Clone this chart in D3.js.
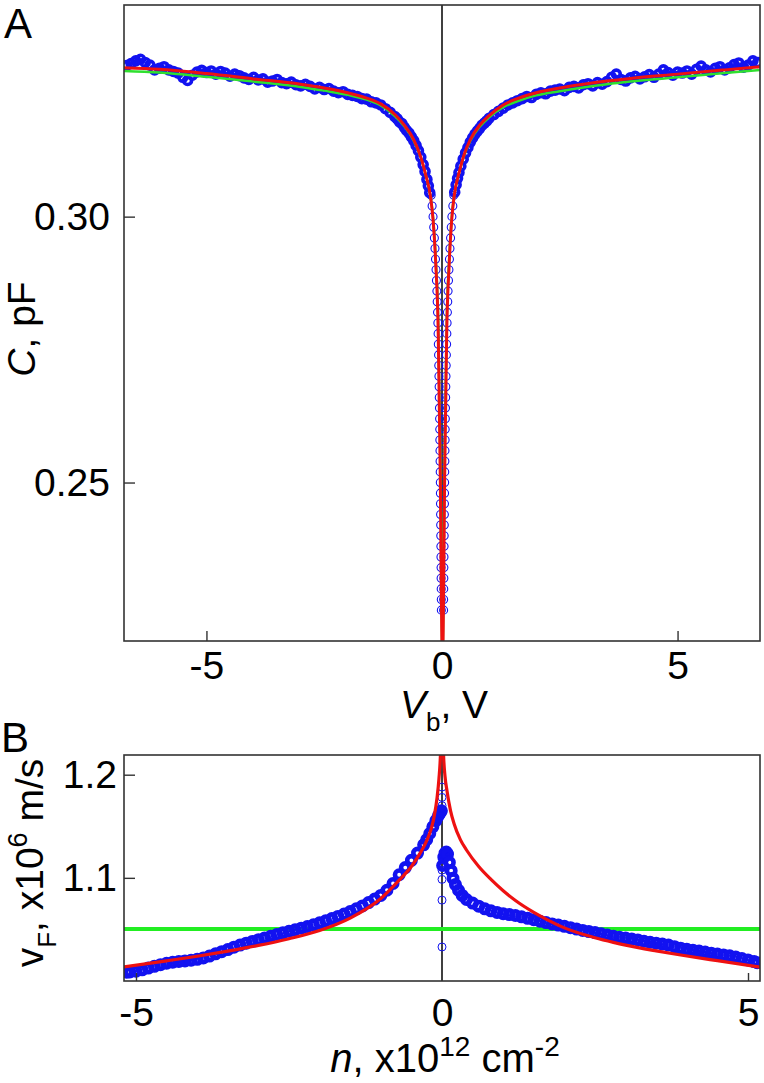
<!DOCTYPE html>
<meta charset="utf-8">
<style>
body { margin:0; background:#fff; }
svg text { font-family:"Liberation Sans", Arial, sans-serif; fill:#000; }
.frame { fill:none; stroke:#333; stroke-width:1.6px; }
.zero { stroke:#000; stroke-width:1.5px; }
.axis path { display:none; }
.axis line { stroke:#333; stroke-width:1.4px; }
.axis text { font-size:39px; font-family:"Liberation Sans", Arial, sans-serif; }
.blue { fill:none; stroke:#1212f0; }
</style>
<body>
<script src="https://d3js.org/d3.v7.min.js"></script>
<script>

// ---- panel A : C vs Vb ----
var vbA = [-6.7,-6.6,-6.5,-6.4,-6.3,-6.2,-6.1,-6.0,-5.9,-5.8,-5.7,-5.6,-5.5,-5.4,-5.3,-5.2,-5.1,-5.0,-4.9,-4.8,-4.7,-4.6,-4.5,-4.4,-4.3,-4.2,-4.1,-4.0,-3.9,-3.8,-3.7,-3.6,-3.5,-3.4,-3.3,-3.2,-3.1,-3.0,-2.9,-2.8,-2.7,-2.6,-2.5,-2.4,-2.3,-2.2,-2.1,-2.0,-1.9,-1.8,-1.7,-1.6,-1.5,-1.4,-1.3,-1.2,-1.1,-1.0,-0.95,-0.9,-0.85,-0.8,-0.75,-0.7,-0.65,-0.6,-0.55,-0.5,-0.45,-0.4,-0.36,-0.32,-0.29,-0.26,
  -0.230,-0.210,-0.190,-0.176,-0.162,-0.149,-0.138,-0.127,-0.118,-0.109,-0.102,-0.095,-0.088,-0.083,-0.078,-0.073,-0.069,-0.065,-0.061,-0.058,-0.054,-0.051,-0.048,-0.046,-0.043,-0.041,-0.038,-0.036,-0.034,-0.032,-0.030,-0.028,-0.026,-0.024,-0.022,-0.020,-0.019,-0.017,-0.015,-0.014,
  0.250,0.230,0.210,0.196,0.182,0.169,0.158,0.147,0.138,0.129,0.122,0.115,0.108,0.103,0.098,0.093,0.089,0.085,0.081,0.078,0.074,0.071,0.068,0.066,0.063,0.061,0.058,0.056,0.054,0.052,0.050,0.048,0.046,0.044,0.042,0.040,0.039,0.037,0.035,0.034,
  0.27,0.3,0.33,0.36,0.4,0.45,0.5,0.55,0.6,0.65,0.7,0.75,0.8,0.85,0.9,0.95,1.0,1.1,1.2,1.3,1.4,1.5,1.6,1.7,1.8,1.9,2.0,2.1,2.2,2.3,2.4,2.5,2.6,2.7,2.8,2.9,3.0,3.1,3.2,3.3,3.4,3.5,3.6,3.7,3.8,3.9,4.0,4.1,4.2,4.3,4.4,4.5,4.6,4.7,4.8,4.9,5.0,5.1,5.2,5.3,5.4,5.5,5.6,5.7,5.8,5.9,6.0,6.1,6.2,6.3,6.4,6.5,6.6,6.7];
var cA = [0.3284,0.3288,0.3293,0.3296,0.3290,0.3285,0.3276,0.3279,0.3282,0.3276,0.3273,0.3270,0.3262,0.3256,0.3266,0.3272,0.3275,0.3271,0.3274,0.3268,0.3273,0.3270,0.3264,0.3268,0.3265,0.3261,0.3258,0.3262,0.3257,0.3259,0.3253,0.3255,0.3258,0.3252,0.3250,0.3253,0.3248,0.3246,0.3249,0.3245,0.3240,0.3243,0.3239,0.3241,0.3236,0.3233,0.3235,0.3230,0.3228,0.3226,0.3222,0.3221,0.3216,0.3214,0.3210,0.3203,0.3196,0.3188,0.3184,0.3178,0.3175,0.3168,0.3162,0.3157,0.3150,0.3143,0.3134,0.3124,0.3112,0.3098,0.3085,0.3070,0.3058,0.3045,
  0.304,0.302,0.300,0.298,0.296,0.294,0.292,0.290,0.288,0.286,0.284,0.282,0.280,0.278,0.276,0.274,0.272,0.270,0.268,0.266,0.264,0.262,0.260,0.258,0.256,0.254,0.252,0.250,0.248,0.246,0.244,0.242,0.240,0.238,0.236,0.234,0.232,0.230,0.228,0.226,
  0.304,0.302,0.300,0.298,0.296,0.294,0.292,0.290,0.288,0.286,0.284,0.282,0.280,0.278,0.276,0.274,0.272,0.270,0.268,0.266,0.264,0.262,0.260,0.258,0.256,0.254,0.252,0.250,0.248,0.246,0.244,0.242,0.240,0.238,0.236,0.234,0.232,0.230,0.228,0.226,
  0.3046,0.3060,0.3072,0.3083,0.3095,0.3108,0.3120,0.3130,0.3140,0.3148,0.3155,0.3161,0.3166,0.3172,0.3176,0.3180,0.3185,0.3192,0.3198,0.3204,0.3210,0.3214,0.3218,0.3222,0.3226,0.3224,0.3230,0.3233,0.3231,0.3236,0.3238,0.3240,0.3237,0.3243,0.3245,0.3242,0.3248,0.3250,0.3246,0.3252,0.3249,0.3254,0.3262,0.3268,0.3258,0.3255,0.3261,0.3264,0.3259,0.3263,0.3267,0.3262,0.3268,0.3276,0.3271,0.3266,0.3272,0.3270,0.3274,0.3268,0.3277,0.3283,0.3276,0.3272,0.3279,0.3282,0.3276,0.3280,0.3286,0.3289,0.3281,0.3285,0.3293,0.3290];

var vbFit = [-6.75,-6,-5,-4,-3,-2.5,-2,-1.6,-1.3,-1,-0.8,-0.6,-0.45,-0.35,-0.24,-0.19,-0.13,-0.08,-0.06,-0.035,-0.02,-0.005,0.01,0.025,0.04,0.055,0.08,0.10,0.15,0.21,0.26,0.37,0.47,0.6,0.8,1.0,1.3,1.6,2.0,2.5,3.0,3.5,4.0,5.0,6.0,6.75];
var cRed = [0.3280,0.3277,0.3269,0.3259,0.3249,0.3242,0.3233,0.3223,0.3212,0.3192,0.3172,0.3145,0.3112,0.3080,0.3035,0.2995,0.2906,0.2780,0.2656,0.2500,0.2350,0.2220,0.2150,0.2220,0.2350,0.2500,0.2656,0.2780,0.2906,0.2998,0.3040,0.3085,0.3117,0.3145,0.3172,0.3190,0.3210,0.3222,0.3233,0.3242,0.3249,0.3255,0.3260,0.3268,0.3276,0.3282];
var cGreen = [0.3274,0.3271,0.3263,0.3254,0.3244,0.3237,0.3229,0.3220,0.3209,0.3189,0.3170,0.3143,0.3111,0.3080,0.3035,0.2998,0.2915,0.2800,0.2690,0.2550,0.2420,0.2260,0.2150,0.2260,0.2420,0.2550,0.2690,0.2800,0.2915,0.3002,0.3040,0.3085,0.3115,0.3143,0.3169,0.3187,0.3206,0.3217,0.3228,0.3236,0.3243,0.3249,0.3254,0.3262,0.3270,0.3276];

var xTicksA = [-5, 0, 5];
var yTicksA = [0.25, 0.30];

// ---- panel B : vF vs n ----
var nB = [-5.15,-5.1,-5.0,-4.9,-4.8,-4.7,-4.6,-4.5,-4.4,-4.3,-4.2,-4.1,-4.0,-3.9,-3.8,-3.7,-3.6,-3.5,-3.4,-3.3,-3.2,-3.1,-3.0,-2.9,-2.8,-2.7,-2.6,-2.5,-2.4,-2.3,-2.2,-2.1,-2.0,-1.9,-1.8,-1.7,-1.6,-1.5,-1.4,-1.3,-1.2,-1.1,-1.0,-0.9,-0.8,-0.7,-0.6,-0.5,-0.4,-0.3,-0.25,-0.2,-0.15,-0.1,-0.06,-0.03,-0.01,
  0.01,0.03,0.05,0.07,0.09,0.12,0.15,0.18,0.22,0.27,0.33,0.4,0.5,0.6,0.7,0.8,0.9,1.0,1.1,1.2,1.3,1.4,1.5,1.6,1.7,1.8,1.9,2.0,2.1,2.2,2.3,2.4,2.5,2.6,2.7,2.8,2.9,3.0,3.1,3.2,3.3,3.4,3.5,3.6,3.7,3.8,3.9,4.0,4.1,4.2,4.3,4.4,4.5,4.6,4.7,4.8,4.9,5.0,5.1,5.15];
var vB = [1.0085,1.0088,1.0095,1.0108,1.0125,1.0142,1.0158,1.0172,1.0182,1.0189,1.0195,1.0201,1.0210,1.0224,1.0242,1.0263,1.0284,1.0305,1.0328,1.0348,1.0367,1.0384,1.0400,1.0417,1.0434,1.0451,1.0467,1.0482,1.0497,1.0512,1.0528,1.0545,1.0564,1.0584,1.0605,1.0626,1.0649,1.0673,1.0700,1.0728,1.0760,1.0794,1.0830,1.0880,1.0945,1.1030,1.1100,1.1170,1.1240,1.1320,1.1370,1.1430,1.1495,1.1555,1.1600,1.1630,1.1650,
  1.1120,1.1200,1.1240,1.1250,1.1230,1.1150,1.1070,1.0995,1.0935,1.0880,1.0830,1.0790,1.0755,1.0725,1.0700,1.0680,1.0665,1.0652,1.0644,1.0635,1.0622,1.0608,1.0594,1.0580,1.0566,1.0553,1.0542,1.0530,1.0517,1.0503,1.0490,1.0479,1.0469,1.0458,1.0445,1.0433,1.0424,1.0416,1.0408,1.0398,1.0385,1.0375,1.0367,1.0358,1.0348,1.0333,1.0318,1.0307,1.0299,1.0290,1.0280,1.0270,1.0261,1.0253,1.0244,1.0232,1.0218,1.0204,1.0188,1.0178];
// scattered points sitting on n = 0
var nZero = [0,0,0,0,0,0,0,0];
var vZero = [1.188,1.178,1.170,1.1124,1.1075,1.0985,1.0784,1.033];

var nFit = [-5.2,-4.5,-4.0,-3.5,-3.0,-2.5,-2.0,-1.5,-1.0,-0.7,-0.5,-0.36,-0.25,-0.14,-0.08,-0.05,-0.025,0,0.025,0.05,0.08,0.14,0.2,0.3,0.4,0.6,0.8,1.0,1.2,1.5,1.7,2.0,2.5,2.8,3.0,3.5,3.9,4.5,5.2];
var vRed = [1.0136,1.0195,1.0240,1.0290,1.0345,1.0410,1.0490,1.0610,1.0800,1.0978,1.1110,1.1237,1.1360,1.1560,1.1780,1.1960,1.2200,1.2800,1.2200,1.1980,1.1850,1.1650,1.1520,1.1370,1.1270,1.1110,1.0985,1.0875,1.0780,1.0665,1.0600,1.0515,1.0420,1.0375,1.0348,1.0292,1.0252,1.0197,1.0135];
var nGreen = [-5.2, 5.2];
var vGreen = [1.0505, 1.0505];

var xTicksB = [-5, 0, 5];
var yTicksB = [1.1, 1.2];

var svg = d3.select("body").append("svg").attr("width", 764).attr("height", 1083);

var xA = d3.scaleLinear().domain([-6.75, 6.75]).range([124, 760]);
var yA = d3.scaleLinear().domain([0.2202, 0.3398]).range([641, 5]);
var xB = d3.scaleLinear().domain([-5.196, 5.196]).range([124, 760]);
var yB = d3.scaleLinear().domain([1.0, 1.2191]).range([981, 755]);

// plain hyphen for negative tick labels, like the figure
var intFmt = d => String(d);

var defs = svg.append("defs");
defs.append("clipPath").attr("id","clipA").append("rect").attr("x",124).attr("y",5).attr("width",636).attr("height",636);
defs.append("clipPath").attr("id","clipB").append("rect").attr("x",124).attr("y",755).attr("width",636).attr("height",226);

// ----- A -----
var gA = svg.append("g").attr("clip-path","url(#clipA)");
gA.append("line").attr("class","zero").attr("x1",xA(0)).attr("x2",xA(0)).attr("y1",5).attr("y2",641);

gA.append("g").selectAll("circle").data(d3.range(vbA.length)).join("circle")
	.attr("class","blue")
	.attr("cx", i => xA(vbA[i]))
	.attr("cy", i => yA(cA[i]))
	.attr("r", 4)
	.attr("stroke-width", i => Math.abs(vbA[i]) < 0.26 ? 1.1 : 3.6);

var lineA = d3.line().curve(d3.curveMonotoneX);
gA.append("path")
	.attr("d", lineA(vbFit.map((v,i) => [xA(v), yA(cGreen[i])])))
	.attr("fill","none").attr("stroke","#2fe02f").attr("stroke-width",2.5);
gA.append("path")
	.attr("d", lineA(vbFit.map((v,i) => [xA(v), yA(cRed[i])])))
	.attr("fill","none").attr("stroke","#ee1111").attr("stroke-width",3);

svg.append("g").attr("class","axis").attr("transform","translate(0,641)")
	.call(d3.axisBottom(xA).tickValues(xTicksA).tickSizeInner(-10).tickSizeOuter(0).tickPadding(10).tickFormat(intFmt))
	.selectAll("line").filter(d => d === 0).remove();
svg.append("g").attr("class","axis").attr("transform","translate(124,0)")
	.call(d3.axisLeft(yA).tickValues(yTicksA).tickSizeInner(-11).tickSizeOuter(0).tickPadding(14).tickFormat(d3.format(".2f")));

svg.append("rect").attr("class","frame").attr("x",124).attr("y",5).attr("width",636).attr("height",636);

// ----- B -----
var gB = svg.append("g").attr("clip-path","url(#clipB)");
gB.append("line").attr("class","zero").attr("x1",xB(0)).attr("x2",xB(0)).attr("y1",755).attr("y2",981);

gB.append("path")
	.attr("d", d3.line()(nGreen.map((n,i) => [xB(n), yB(vGreen[i])])))
	.attr("fill","none").attr("stroke","#22ee22").attr("stroke-width",4);

gB.append("g").selectAll("circle").data(d3.range(nB.length)).join("circle")
	.attr("class","blue")
	.attr("cx", i => xB(nB[i]))
	.attr("cy", i => yB(vB[i]))
	.attr("r", 4.2)
	.attr("stroke-width", 4.6);
gB.append("g").selectAll("circle").data(d3.range(nZero.length)).join("circle")
	.attr("class","blue")
	.attr("cx", i => xB(nZero[i]))
	.attr("cy", i => yB(vZero[i]))
	.attr("r", 4)
	.attr("stroke-width", 1);

gB.append("path")
	.attr("d", d3.line().curve(d3.curveMonotoneX)(nFit.map((n,i) => [xB(n), yB(vRed[i])])))
	.attr("fill","none").attr("stroke","#ee1111").attr("stroke-width",3.2);

svg.append("g").attr("class","axis").attr("transform","translate(0,981)")
	.call(d3.axisBottom(xB).tickValues(xTicksB).tickSizeInner(-8).tickSizeOuter(0).tickPadding(17).tickFormat(intFmt))
	.selectAll("line").filter(d => d === 0).remove();
svg.append("g").attr("class","axis").attr("transform","translate(124,0)")
	.call(d3.axisLeft(yB).tickValues(yTicksB).tickSizeInner(-11).tickSizeOuter(0).tickPadding(7).tickFormat(d3.format(".1f")));

svg.append("rect").attr("class","frame").attr("x",124).attr("y",755).attr("width",636).attr("height",226);

// ----- labels -----
svg.append("text").attr("x",4).attr("y",38).style("font-size","42px").text("A");
svg.append("text").attr("x",1).attr("y",752).style("font-size","42px").text("B");

var lx = svg.append("text").attr("x",444).attr("y",718).attr("text-anchor","middle").style("font-size","39px");
lx.append("tspan").style("font-style","italic").text("V");
lx.append("tspan").attr("dy",13).style("font-size","26px").text("b");
lx.append("tspan").attr("dy",-13).text(", V");

var ly = svg.append("text").attr("transform","translate(35,329) rotate(-90)").attr("text-anchor","middle").style("font-size","39px");
ly.append("tspan").style("font-style","italic").text("C");
ly.append("tspan").text(", pF");

var lxb = svg.append("text").attr("x",445).attr("y",1072).attr("text-anchor","middle").style("font-size","40px");
lxb.append("tspan").style("font-style","italic").text("n");
lxb.append("tspan").text(", x10");
lxb.append("tspan").attr("dy",-16).style("font-size","28px").text("12");
lxb.append("tspan").attr("dy",16).text(" cm");
lxb.append("tspan").attr("dy",-16).style("font-size","28px").text("-2");

var lyb = svg.append("text").attr("transform","translate(43,863) rotate(-90)").attr("text-anchor","middle").style("font-size","39px");
lyb.append("tspan").text("v");
lyb.append("tspan").attr("dy",13).style("font-size","26px").text("F");
lyb.append("tspan").attr("dy",-13).text(", x10");
lyb.append("tspan").attr("dy",-16).style("font-size","27px").text("6");
lyb.append("tspan").attr("dy",16).text(" m/s");

</script>
</body>
